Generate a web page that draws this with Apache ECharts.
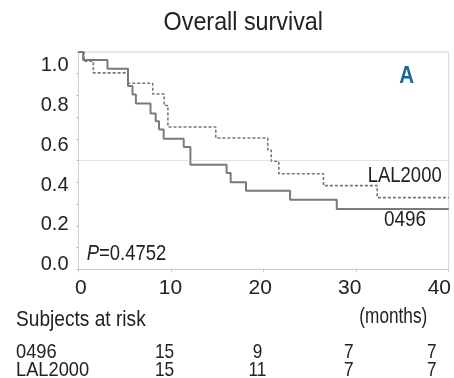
<!DOCTYPE html>
<html>
<head>
<meta charset="utf-8">
<script src="https://cdn.jsdelivr.net/npm/echarts@6/dist/echarts.min.js"></script>
<style>
html,body{margin:0;padding:0;background:#fff;}
#chart{width:454px;height:378px;}
</style>
</head>
<body>
<div id="chart"></div>
<script>
// ---- Data ----
const time0496 = [0, 0.5, 3.13, 5.35, 5.83, 6.2, 7.78, 8.34, 8.7, 9.2, 11.37, 12.09, 16.0, 16.44, 18.1, 22.86, 27.9, 40];
const surv0496 = [1, 0.963, 0.923, 0.843, 0.804, 0.763, 0.717, 0.681, 0.643, 0.601, 0.563, 0.481, 0.443, 0.401, 0.361, 0.320, 0.278, 0.278];

const timeLAL = [0, 0.6, 1.6, 5.35, 8.02, 9.25, 9.66, 14.83, 20.45, 20.82, 21.64, 26.47, 32.27, 40];
const survLAL = [1, 0.958, 0.904, 0.856, 0.807, 0.754, 0.655, 0.604, 0.549, 0.497, 0.440, 0.385, 0.330, 0.330];

const yTickLabels = [0, 0.2, 0.4, 0.6, 0.8, 1.0];
const xTickLabels = [0, 10, 20, 30, 40];
const medianLine = 0.5;

const riskGroups = ['0496', 'LAL2000'];
const risk0496 = [15, 9, 7, 7];
const riskLAL = [15, 11, 7, 7];

// ---- Layout ----
const FONT = "'Liberation Sans Narrow', 'Arial Narrow', 'Liberation Sans', sans-serif";
const TXT = '#222';
const riskColX = [164.5, 257.5, 348.7, 431.7];

const chart = echarts.init(document.getElementById('chart'), null, {renderer: 'canvas'});

const pairs = (t, s) => t.map((v, i) => [v, s[i]]);

function txt(text, x, y, size, align, sx, extra) {
  return Object.assign({type: 'text', x: x, y: y, scaleX: sx,
    style: {text: text, font: size + 'px ' + FONT, fill: TXT, align: align, verticalAlign: 'middle'}}, extra || {});
}

const graphics = [
  txt('Overall survival', 243.3, 22.2, 26.5, 'center', 0.88),
  {type: 'text', x: 406.8, y: 76.5, scaleX: 0.84,
   style: {text: 'A', font: 'bold 24.5px ' + FONT, fill: '#16679a', align: 'center', verticalAlign: 'middle'}},
  txt('LAL2000', 404.7, 176, 22, 'center', 0.84),
  txt('0496', 405, 220, 22, 'center', 0.86),
  {type: 'text', x: 86.7, y: 253.3, scaleX: 0.82, style: {
    text: '{i|P}{n|=0.4752}',
    rich: {i: {font: 'italic 22.5px ' + FONT, fill: TXT}, n: {font: '22.5px ' + FONT, fill: TXT}},
    align: 'left', verticalAlign: 'middle'}},
  txt('(months)', 393.3, 317, 21.5, 'center', 0.8),
  txt('Subjects at risk', 16, 320, 21.5, 'left', 0.89),
  txt(riskGroups[0], 16, 352.7, 21, 'left', 0.87),
  txt(riskGroups[1], 16, 370, 21, 'left', 0.87)
];
risk0496.forEach((v, i) => graphics.push(txt(String(v), riskColX[i], 352.7, 21, 'center', 0.82)));
riskLAL.forEach((v, i) => graphics.push(txt(String(v), riskColX[i], 370, 21, 'center', 0.82)));

const option = {
  animation: false,
  backgroundColor: '#fff',
  grid: {left: 78.5, right: 1, top: 52, bottom: 108.7, show: true, borderColor: '#d4d4d4', borderWidth: 1, backgroundColor: 'transparent'},
  xAxis: [
    {type: 'value', min: 0, max: 40, interval: 10,
     axisLine: {show: true, lineStyle: {color: '#cfcfcf', width: 1}},
     axisTick: {show: true, inside: false, length: 3, lineStyle: {color: '#aaa', type: 'dotted'}},
     axisLabel: {show: false}, splitLine: {show: false}},
    {type: 'value', min: -0.275, max: 41.05, position: 'bottom',
     axisLine: {show: false}, axisTick: {show: false}, splitLine: {show: false},
     axisLabel: {show: true, customValues: xTickLabels, margin: 8, fontSize: 21, fontFamily: FONT, color: TXT,
       formatter: v => String(Math.round(v))}}
  ],
  yAxis: [
    {type: 'value', min: 0, max: 1, interval: 0.1,
     axisLine: {show: true, lineStyle: {color: '#cfcfcf', type: 'dotted'}},
     axisTick: {show: true, length: 2, lineStyle: {color: '#bbb'}},
     axisLabel: {show: false}, splitLine: {show: false}},
    {type: 'value', min: -0.0231, max: 1.0694, position: 'left',
     axisLine: {show: false}, axisTick: {show: false}, splitLine: {show: false},
     axisLabel: {show: true, customValues: yTickLabels, margin: 10, fontSize: 20, fontFamily: FONT, color: TXT,
       formatter: v => v.toFixed(1)}}
  ],
  series: [
    {name: '0496', type: 'line', step: 'end', xAxisIndex: 0, yAxisIndex: 0,
     data: pairs(time0496, surv0496), showSymbol: false, symbol: 'none',
     lineStyle: {color: '#7a7a7a', width: 2}, z: 3,
     markLine: {silent: true, symbol: 'none', label: {show: false},
       lineStyle: {color: '#c4c4c4', type: 'dotted', width: 1}, data: [{yAxis: medianLine}]}},
    {name: 'LAL2000', type: 'line', step: 'end', xAxisIndex: 0, yAxisIndex: 0,
     data: pairs(timeLAL, survLAL), showSymbol: false, symbol: 'none',
     lineStyle: {color: '#767676', width: 1.6, type: [3, 2]}, z: 4}
  ],
  graphic: graphics
};
chart.setOption(option);
</script>
</body>
</html>
